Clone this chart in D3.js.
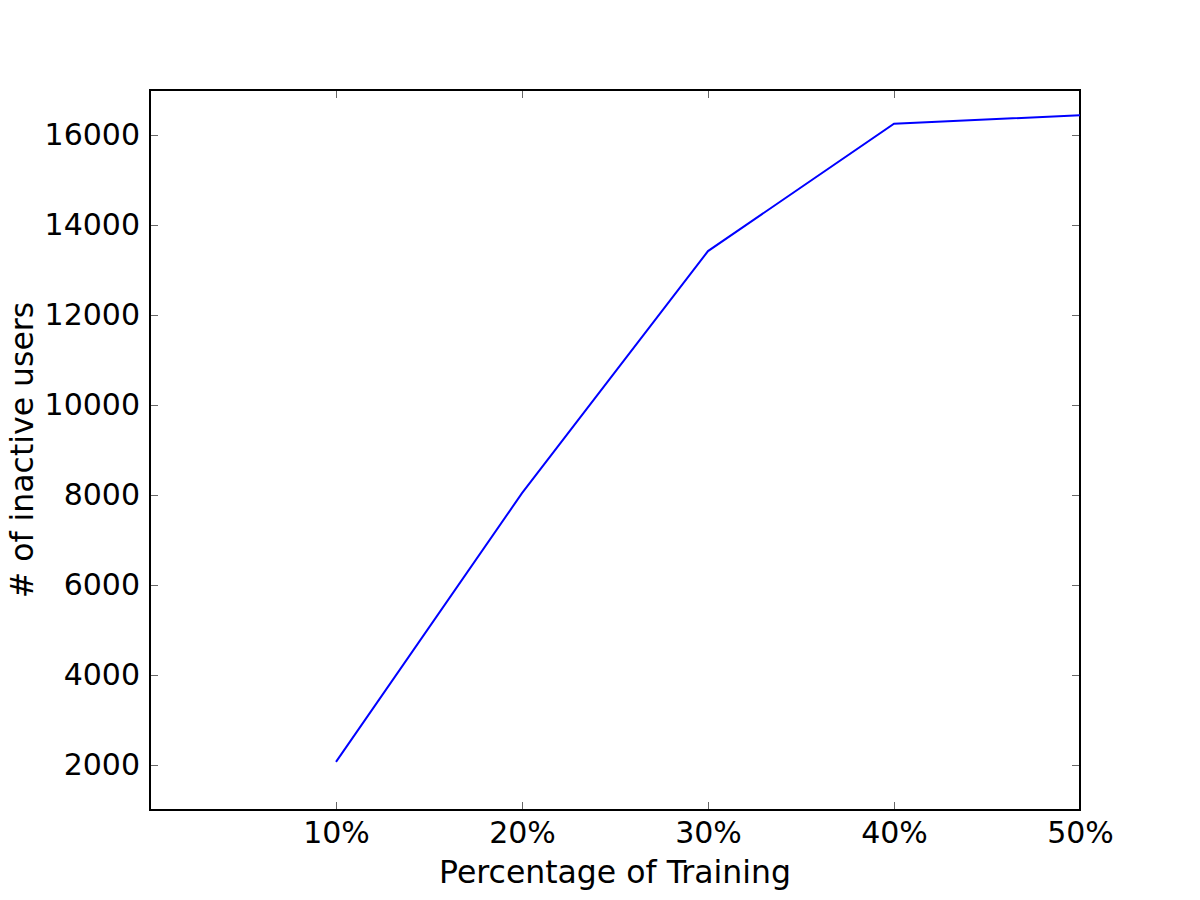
<!DOCTYPE html>
<html>
<head>
<meta charset="utf-8">
<script src="https://cdn.jsdelivr.net/npm/d3@7"></script>
<style>
  body { margin: 0; background: #fff; }
  svg text { font-family: "DejaVu Sans", sans-serif; fill: #000; }
</style>
</head>
<body>
<svg id="chart" width="1200" height="900"></svg>
<script>
// data
var trainPct = [10, 20, 30, 40, 50];
var inactiveUsers = [2070, 8040, 13420, 16250, 16440];
var xTicks = [10, 20, 30, 40, 50];
var yTicks = [2000, 4000, 6000, 8000, 10000, 12000, 14000, 16000];

var svg = d3.select('#chart');
var plotL = 150, plotR = 1080, plotT = 90, plotB = 810;

var x = d3.scaleLinear().domain([0, 50]).range([plotL, plotR]);
var y = d3.scaleLinear().domain([1000, 17000]).range([plotB, plotT]);

var fs = 30, labelFs = 31.5, tickLen = 8;

// bottom / top axes (ticks point inward)
var gx = svg.append('g').attr('transform', 'translate(0,' + plotB + ')')
  .call(d3.axisBottom(x).tickValues(xTicks).tickSize(-tickLen).tickPadding(12).tickFormat(function(d) { return d + '%'; }));
var gxt = svg.append('g').attr('transform', 'translate(0,' + plotT + ')')
  .call(d3.axisTop(x).tickValues(xTicks).tickSize(-tickLen).tickFormat(''));
var gy = svg.append('g').attr('transform', 'translate(' + plotL + ',0)')
  .call(d3.axisLeft(y).tickValues(yTicks).tickSize(-tickLen).tickPadding(10).tickFormat(d3.format('d')));
var gyr = svg.append('g').attr('transform', 'translate(' + plotR + ',0)')
  .call(d3.axisRight(y).tickValues(yTicks).tickSize(-tickLen).tickFormat(''));

[gx, gxt, gy, gyr].forEach(function(g) {
  g.select('.domain').remove();
  g.selectAll('.tick line').attr('stroke', '#000').attr('stroke-width', 1).attr('opacity', 0.6);
  g.selectAll('.tick text').attr('font-size', fs).attr('font-family', '"DejaVu Sans", sans-serif').attr('fill', '#000');
});

// frame
svg.append('rect').attr('x', plotL).attr('y', plotT).attr('width', plotR - plotL).attr('height', plotB - plotT)
  .attr('fill', 'none').attr('stroke', '#000').attr('stroke-width', 2);

// line
var line = d3.line().x(function(d, i) { return x(trainPct[i]); }).y(function(d) { return y(d); });
svg.append('path').datum(inactiveUsers).attr('d', line)
  .attr('fill', 'none').attr('stroke', '#0000ff').attr('stroke-width', 2);

// axis labels
svg.append('text').attr('x', (plotL + plotR) / 2).attr('y', 883).attr('text-anchor', 'middle')
  .attr('font-size', labelFs).text('Percentage of Training');
svg.append('text').attr('transform', 'translate(33,' + (plotT + plotB) / 2 + ') rotate(-90)')
  .attr('text-anchor', 'middle').attr('font-size', labelFs).text('# of inactive users');
</script>
</body>
</html>
